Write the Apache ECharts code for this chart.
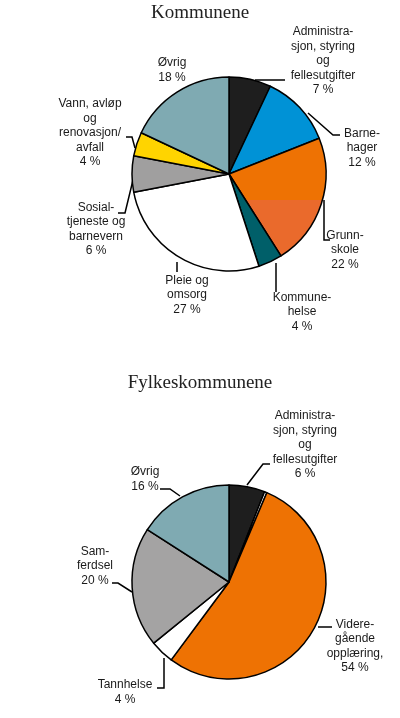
<!DOCTYPE html>
<html><head><meta charset="utf-8">
<script src="https://cdn.jsdelivr.net/npm/echarts@6/dist/echarts.min.js"></script>
<style>html,body{margin:0;padding:0;background:#fff}#c{width:400px;height:718px}</style>
</head><body><div id="c"></div>
<script>
// ---- Data ----
const komNames = ['Administra-\nsjon, styring\nog\nfellesutgifter', 'Barne-\nhager', 'Grunn-\nskole', 'Kommune-\nhelse', 'Pleie og\nomsorg', 'Sosial-\ntjeneste og\nbarnevern', 'Vann, avløp\nog\nrenovasjon/\navfall', 'Øvrig'];
const komValues = [7, 12, 22, 4, 27, 6, 4, 18];
const fylNames = ['Administra-\nsjon, styring\nog\nfellesutgifter', '', 'Videre-\ngående\nopplæring,', 'Tannhelse', 'Sam-\nferdsel', 'Øvrig'];
const fylValues = [6, 0.4, 54, 4, 20, 16];

// ---- Styles / layout ----
const komColors = ['#1E1E1E', '#0092D6', 'GRUNN', '#005F69', '#FFFFFF', '#A09F9F', '#FFD400', '#7FAAB2'];
const fylColors = ['#1E1E1E', '#FFFFFF', '#EE7203', '#FFFFFF', '#A4A3A3', '#7FAAB2'];
const komLabelPos = [[323,61],[362,148],[345,250],[302,312],[187,295],[96,229],[90,133],[172,70]];
const fylLabelPos = [[305,445],[0,0],[355,646],[125,692],[95,566],[145,479]];
const komLinePts = [
  [[255,80],[285,80]],
  [[308,113],[333,135],[340,135]],
  [[324,200],[324,240],[330,240]],
  [[276,263],[276,292]],
  [[177,262],[177,272]],
  [[133,180],[125,213],[118,213]],
  [[126,137],[132,137],[135,148]],
  null
];
const fylLinePts = [
  [[270,464],[263,464],[247,485]],
  null,
  [[318,627],[332,627]],
  [[164,658],[164,688],[157,688]],
  [[112,583],[118,583],[132,592]],
  [[160,489],[170,489],[180,496]]
];

const grunnFill = {type:'linear', x:0, y:0, x2:0, y2:1, colorStops:[
  {offset:0, color:'#EE7203'},{offset:0.525, color:'#EE7203'},
  {offset:0.525, color:'#EA6A2C'},{offset:1, color:'#EA6A2C'}]};

function buildData(names, values, colors, linePts) {
  return values.map((v, i) => ({
    name: names[i], value: v,
    itemStyle: {color: colors[i] === 'GRUNN' ? grunnFill : colors[i]},
    label: {show: names[i] !== ''},
    labelLine: {show: !!linePts[i]}
  }));
}

const labelStyle = {
  show: true, position: 'outside', color: '#1a1a1a',
  fontFamily: 'Liberation Sans, Arial, sans-serif', fontSize: 12, lineHeight: 14.5,
  align: 'center',
  formatter: p => p.name + '\n' + Math.round(p.value) + ' %'
};
const titleStyle = {fontFamily: 'Liberation Serif, Times New Roman, serif', fontSize: 19, fontWeight: 'normal', color: '#222'};

function layoutFn(pos, pts) {
  return p => {
    const o = {x: pos[p.dataIndex][0], y: pos[p.dataIndex][1], align: 'center', verticalAlign: 'middle'};
    if (pts[p.dataIndex]) o.labelLinePoints = pts[p.dataIndex];
    return o;
  };
}

const chart = echarts.init(document.getElementById('c'));
chart.setOption({
  animation: false,
  title: [
    {text: 'Kommunene', left: 'center', top: -1, textStyle: titleStyle},
    {text: 'Fylkeskommunene', left: 'center', top: 369, textStyle: titleStyle}
  ],
  series: [
    {
      type: 'pie', center: [229, 174], radius: 97, startAngle: 90, clockwise: true,
      avoidLabelOverlap: false,
      itemStyle: {borderColor: '#000', borderWidth: 1.5},
      label: labelStyle,
      labelLine: {show: true, lineStyle: {color: '#000', width: 1.5}},
      labelLayout: layoutFn(komLabelPos, komLinePts),
      emphasis: {disabled: true},
      data: buildData(komNames, komValues, komColors, komLinePts)
    },
    {
      type: 'pie', center: [229, 582], radius: 97, startAngle: 90, clockwise: true,
      avoidLabelOverlap: false,
      itemStyle: {borderColor: '#000', borderWidth: 1.5},
      label: labelStyle,
      labelLine: {show: true, lineStyle: {color: '#000', width: 1.5}},
      labelLayout: layoutFn(fylLabelPos, fylLinePts),
      emphasis: {disabled: true},
      data: buildData(fylNames, fylValues, fylColors, fylLinePts)
    }
  ]
});
</script></body></html>
